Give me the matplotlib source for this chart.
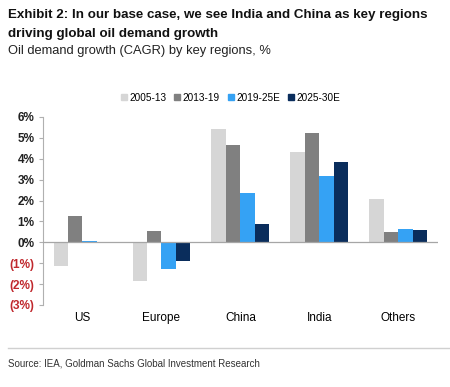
import numpy as np
import matplotlib.pyplot as plt
from matplotlib.lines import Line2D

# Data (CAGR, %)
regions = ["US", "Europe", "China", "India", "Others"]
periods = ["2005-13", "2013-19", "2019-25E", "2025-30E"]
g_2005_13 = [-1.11, -1.83, 5.44, 4.31, 2.06]
g_2013_19 = [1.28, 0.56, 4.67, 5.23, 0.48]
g_2019_25 = [0.05, -1.27, 2.36, 3.18, 0.64]
g_2025_30 = [0.0, -0.89, 0.86, 3.85, 0.59]
yticks = [-3, -2, -1, 0, 1, 2, 3, 4, 5, 6]

colors = ["#d6d6d6", "#808080", "#35a2f4", "#0a2d5c"]
series = [g_2005_13, g_2013_19, g_2019_25, g_2025_30]

sans = ["Liberation Sans", "DejaVu Sans"]

fig = plt.figure(figsize=(4.5, 3.87), dpi=100)
ax = fig.add_axes([0.0956, 0.2119, 0.877, 0.4858])

x = np.arange(len(regions))
w = 0.183
for i, (vals, c) in enumerate(zip(series, colors)):
    ax.bar(x + (i - 1.5) * w, vals, width=w, color=c, zorder=2)

ax.axhline(0, color="#a6a6a6", lw=0.9, zorder=3)
ax.set_xlim(-0.5, 4.5)
ax.set_ylim(-3, 6)
ax.set_yticks(yticks)
ax.set_yticklabels([f"{t}%" if t >= 0 else f"({-t}%)" for t in yticks],
                   family=sans, fontsize=8.5, fontweight="bold")
for lbl, t in zip(ax.get_yticklabels(), yticks):
    lbl.set_color("#c0282d" if t < 0 else "#222222")
ax.tick_params(axis="y", length=3, color="#b0b0b0", pad=3)

ax.set_xticks(x)
ax.set_xticklabels(regions, family=sans, fontsize=8.5)
ax.tick_params(axis="x", length=0, pad=5)

for s in ["top", "right", "bottom"]:
    ax.spines[s].set_visible(False)
ax.spines["left"].set_color("#b0b0b0")
ax.spines["left"].set_linewidth(0.8)

# legend
handles = [Line2D([], [], marker="s", ls="", color=c, markersize=4) for c in colors]
fig.legend(handles, periods, loc="center", bbox_to_anchor=(0.51, 0.748),
           ncol=4, frameon=False, prop={"family": sans, "size": 7.2},
           handletextpad=0.05, columnspacing=0.6, handlelength=1.0)

# titles
fig.text(0.018, 0.962, "Exhibit 2: In our base case, we see India and China as key regions",
         family=sans, fontweight="bold", fontsize=9.6, va="center", color="#111111")
fig.text(0.018, 0.913, "driving global oil demand growth",
         family=sans, fontweight="bold", fontsize=9.6, va="center", color="#111111")
fig.text(0.018, 0.867, "Oil demand growth (CAGR) by key regions, %",
         family=sans, fontsize=9.3, va="center", color="#222222")

# source line
fig.add_artist(Line2D([0.018, 1.0], [0.101, 0.101], color="#d0d0d0", lw=1))
fig.text(0.018, 0.062, "Source: IEA, Goldman Sachs Global Investment Research",
         family=sans, fontsize=7.0, va="center", color="#333333")

fig.savefig("out.png", dpi=100, facecolor="white")
